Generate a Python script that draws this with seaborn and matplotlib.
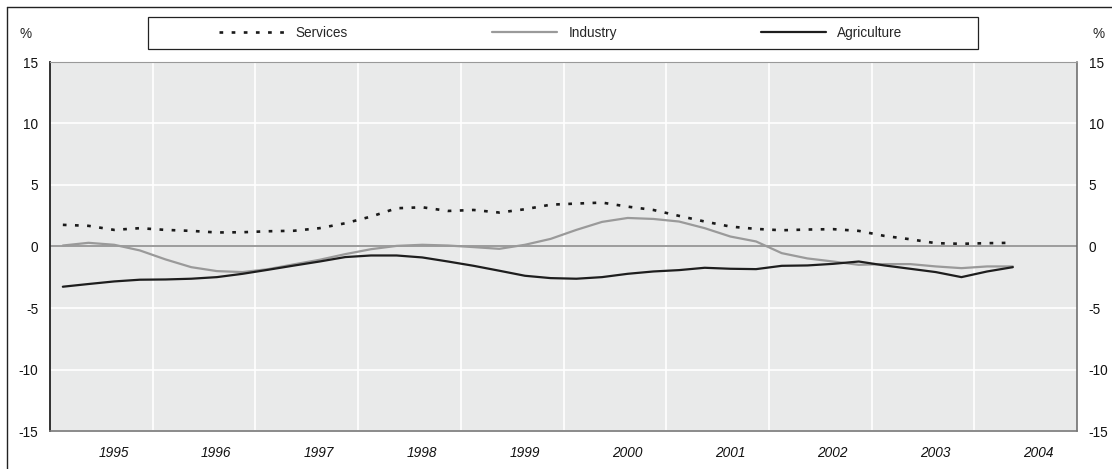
import numpy as np
import pandas as pd
import matplotlib
matplotlib.use('Agg')
import matplotlib.pyplot as plt
import seaborn as sns
from matplotlib.patches import Rectangle
from matplotlib.lines import Line2D

# quarterly data, 1995Q1 - 2004Q2
quarters = pd.period_range('1995Q1', '2004Q2', freq='Q')

services = [1.76, 1.68, 1.35, 1.49, 1.35, 1.27, 1.14, 1.16, 1.24, 1.28,
            1.49, 1.89, 2.43, 3.11, 3.19, 2.89, 2.97, 2.76, 3.03, 3.40,
            3.49, 3.57, 3.24, 2.97, 2.49, 2.03, 1.62, 1.43, 1.32, 1.38,
            1.41, 1.27, 0.86, 0.59, 0.27, 0.22, 0.27, 0.30]
industry = [0.08, 0.30, 0.14, -0.32, -1.05, -1.68, -2.00, -2.08, -1.84, -1.45,
            -1.08, -0.62, -0.22, 0.05, 0.14, 0.08, -0.05, -0.19, 0.14, 0.62,
            1.35, 2.00, 2.32, 2.24, 2.03, 1.49, 0.81, 0.41, -0.54, -0.97,
            -1.22, -1.49, -1.43, -1.43, -1.62, -1.76, -1.62, -1.62]
agriculture = [-3.27, -3.05, -2.84, -2.70, -2.68, -2.62, -2.49, -2.22, -1.89, -1.55,
               -1.22, -0.86, -0.73, -0.73, -0.89, -1.22, -1.57, -1.97, -2.38, -2.57,
               -2.62, -2.49, -2.22, -2.03, -1.92, -1.73, -1.81, -1.84, -1.57, -1.54,
               -1.41, -1.22, -1.54, -1.81, -2.08, -2.49, -2.03, -1.68]

year_labels = ['1995', '1996', '1997', '1998', '1999',
               '2000', '2001', '2002', '2003', '2004']
y_ticks = [-15, -10, -5, 0, 5, 10, 15]

sns.set_style('white')
plt.rcParams['font.family'] = ['Liberation Sans', 'DejaVu Sans']
plt.rcParams['font.size'] = 9.8

x = quarters.year + (quarters.quarter - 0.5) / 4

fig = plt.figure(figsize=(11.12, 4.69), dpi=100)
ax = fig.add_axes([50 / 1112, 38 / 469, 1027 / 1112, 369 / 469])
ax.set_facecolor('#e9eaea')

sns.lineplot(x=x, y=services, ax=ax, color='#1a1a1a', lw=1.9,
             linestyle=(0, (1.4, 3.2)), label='Services', zorder=5)
sns.lineplot(x=x, y=industry, ax=ax, color='#9a9a9a', lw=1.6,
             label='Industry', zorder=3)
sns.lineplot(x=x, y=agriculture, ax=ax, color='#1e1e1e', lw=1.6,
             label='Agriculture', zorder=4)

ax.axhline(0, color='#828282', lw=1.1, zorder=2)

ax.set_xlim(1995, 2005)
ax.set_ylim(-15, 15)

# gridlines at year boundaries, labels offset into the year
years = [int(y) for y in year_labels]
ax.set_xticks([y + 0.62 for y in years])
ax.set_xticklabels(year_labels, fontstyle='italic')
ax.set_xticks([y for y in years[1:]], minor=True)
ax.grid(which='minor', axis='x', color='white', lw=1.2, zorder=1)
ax.set_yticks(y_ticks)
ax.set_yticklabels([str(v) for v in y_ticks])
ax.grid(which='major', axis='y', color='white', lw=1.2, zorder=1)
ax.grid(which='major', axis='x', visible=False)

ax.tick_params(axis='x', which='both', length=0, pad=11, labelsize=9.8, colors='#111111')
ax.tick_params(axis='y', which='both', length=0, pad=8.5, labelsize=9.8,
               left=True, right=True, labelleft=True, labelright=True, colors='#111111')
ax.set_xlabel('')
ax.set_ylabel('')

ax.spines['left'].set_color('#222222')
ax.spines['left'].set_linewidth(1.3)
ax.spines['bottom'].set_color('#777777')
ax.spines['bottom'].set_linewidth(1.2)
ax.spines['right'].set_color('#666666')
ax.spines['right'].set_linewidth(1.1)
ax.spines['top'].set_color('#999999')
ax.spines['top'].set_linewidth(0.8)

# legend inside its own box above the plot
handles, labels = ax.get_legend_handles_labels()
ax.legend(handles, labels, loc='center', bbox_to_anchor=(561 / 1112, 1 - 33 / 469),
          bbox_transform=fig.transFigure, ncol=3, frameon=False,
          handlelength=4.8, columnspacing=10.6, handletextpad=0.8, fontsize=9.8)
fig.add_artist(Rectangle((148 / 1112, 1 - 49 / 469), 830 / 1112, 32 / 469,
                         transform=fig.transFigure, fill=False,
                         edgecolor='#222222', lw=0.9))

# outer frame (top and left only)
fig.add_artist(Line2D([7 / 1112, 1], [1 - 7 / 469, 1 - 7 / 469],
                      transform=fig.transFigure, color='#222222', lw=1))
fig.add_artist(Line2D([7 / 1112, 7 / 1112], [1 - 7 / 469, 0],
                      transform=fig.transFigure, color='#222222', lw=1))

fig.text(26 / 1112, 1 - 34 / 469, '%', ha='center', va='center', fontsize=9.8)
fig.text(1099 / 1112, 1 - 34 / 469, '%', ha='center', va='center', fontsize=9.8)

fig.savefig('out.png', dpi=100)
